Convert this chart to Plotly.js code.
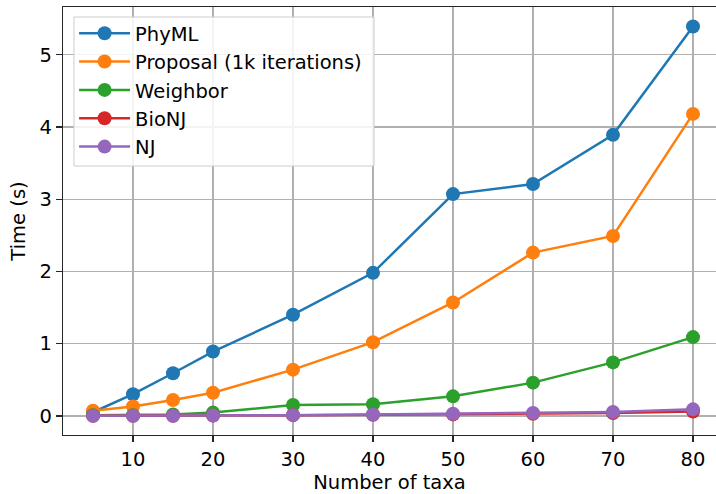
<!DOCTYPE html>
<html>
<head>
<meta charset="utf-8">
<script src="https://cdn.plot.ly/plotly-3.0.1.min.js"></script>
<style>html,body{margin:0;padding:0;background:#fff;}#chart{width:716px;height:494px;}</style>
</head>
<body>
<div id="chart"></div>
<script>
const taxa = [5, 10, 15, 20, 30, 40, 50, 60, 70, 80];
const phyml = [0.05, 0.30, 0.59, 0.89, 1.40, 1.98, 3.07, 3.21, 3.89, 5.39];
const proposal = [0.07, 0.13, 0.22, 0.32, 0.64, 1.02, 1.57, 2.26, 2.49, 4.18];
const weighbor = [0.01, 0.01, 0.02, 0.045, 0.15, 0.16, 0.27, 0.46, 0.74, 1.09];
const bionj = [0.0, 0.0, 0.0, 0.005, 0.01, 0.015, 0.02, 0.03, 0.04, 0.06];
const nj = [0.0, 0.0, 0.0, 0.005, 0.01, 0.02, 0.03, 0.04, 0.055, 0.09];
const names = ['PhyML', 'Proposal (1k iterations)', 'Weighbor', 'BioNJ', 'NJ'];
const colors = ['#1f77b4', '#ff7f0e', '#2ca02c', '#d62728', '#9467bd'];
const series = [phyml, proposal, weighbor, bionj, nj];
const yTicks = [0, 1, 2, 3, 4, 5];
const xTicks = [10, 20, 30, 40, 50, 60, 70, 80];

const traces = series.map((ys, i) => ({
  x: taxa, y: ys, name: names[i], type: 'scatter', mode: 'lines+markers',
  legendgroup: 'g' + i,
  line: {color: colors[i], width: 2.5},
  marker: {color: colors[i], size: 14}
}));

const F = 19.5;
const layout = {
  width: 716, height: 494,
  margin: {l: 63, r: 0, t: 7, b: 59},
  paper_bgcolor: '#fff', plot_bgcolor: '#fff',
  font: {family: 'DejaVu Sans', size: F, color: '#000'},
  xaxis: {
    range: [1.25, 82.875], tickvals: xTicks, ticktext: xTicks.map(String),
    showgrid: true, gridcolor: '#b0b0b0', gridwidth: 1.3, zeroline: false,
    showline: true, linecolor: '#262626', linewidth: 1.3, mirror: true,
    ticks: 'outside', ticklen: 6, tickcolor: '#262626', tickwidth: 1.3,
    automargin: false,
    title: {text: 'Number of taxa', font: {size: F}, standoff: 6}
  },
  yaxis: {
    range: [-0.265, 5.66], tickvals: yTicks, ticktext: yTicks.map(String),
    showgrid: true, gridcolor: '#b0b0b0', gridwidth: 1.3, zeroline: false,
    showline: true, linecolor: '#262626', linewidth: 1.3, mirror: false,
    ticks: 'outside', ticklen: 6, tickcolor: '#262626', tickwidth: 1.3,
    automargin: false,
    title: {text: 'Time (s)', font: {size: F}, standoff: 8}
  },
  shapes: [{
    type: 'rect', xref: 'paper', yref: 'paper', layer: 'above',
    x0: 0.0168, x1: 0.4763, y0: 0.6285, y1: 0.9766,
    fillcolor: 'rgba(255,255,255,0.85)', line: {color: '#cccccc', width: 1}
  }],
  showlegend: true,
  legend: {
    x: 0.017, y: 0.9836, xanchor: 'left', yanchor: 'top',
    bgcolor: 'rgba(0,0,0,0)', borderwidth: 0,
    font: {size: F}, traceorder: 'grouped', tracegroupgap: 0, itemwidth: 51
  }
};
Plotly.newPlot('chart', traces, layout, {displayModeBar: false, staticPlot: true});
</script>
</body>
</html>
